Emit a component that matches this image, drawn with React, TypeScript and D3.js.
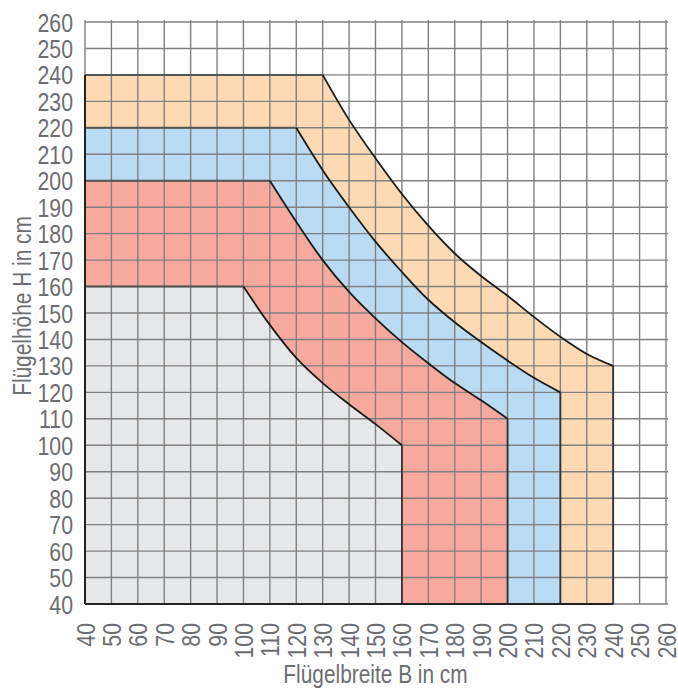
import React from 'react';
import * as d3 from 'd3';

const xTicks = [40, 50, 60, 70, 80, 90, 100, 110, 120, 130, 140, 150, 160, 170, 180, 190, 200, 210, 220, 230, 240, 250, 260];
const yTicks = [40, 50, 60, 70, 80, 90, 100, 110, 120, 130, 140, 150, 160, 170, 180, 190, 200, 210, 220, 230, 240, 250, 260];

// boundary curves [B, H]
const greyCurve: [number, number][] = [[100, 160], [110, 145.5], [120, 133], [130, 123.5], [140, 115.5], [150, 108], [160, 100]];
const redCurve: [number, number][] = [[110, 200], [120, 184.5], [130, 170], [140, 158], [150, 148], [160, 139], [170, 131], [180, 123.5], [190, 117], [200, 110]];
const blueCurve: [number, number][] = [[120, 220], [130, 204], [140, 190], [150, 177], [160, 165.5], [170, 155], [180, 146.5], [190, 139], [200, 132], [210, 125.5], [220, 120]];
const orangeCurve: [number, number][] = [[130, 240], [140, 223], [150, 208.5], [160, 195], [170, 183], [180, 172.5], [190, 164], [200, 156.5], [210, 148.5], [220, 141], [230, 134.5], [240, 130]];

const regions = [
  { name: 'orange', curve: orangeCurve, color: '#fddab4' },
  { name: 'blue', curve: blueCurve, color: '#b9dbf3' },
  { name: 'red', curve: redCurve, color: '#f8a99e' },
  { name: 'grey', curve: greyCurve, color: '#e6e7e9' },
];

const W = 678, H = 689;
const left = 85, right = 666, top = 22, bottom = 604;
const font = "'Liberation Sans', Arial, sans-serif";
const textColor = '#6d6e71';
const sx = 0.82;

export default function App() {
  const x = d3.scaleLinear().domain([40, 260]).range([left, right]);
  const y = d3.scaleLinear().domain([40, 260]).range([bottom, top]);
  const line = d3.line<[number, number]>().x(d => x(d[0])).y(d => y(d[1])).curve(d3.curveCatmullRom.alpha(0.5));

  const areaPath = (c: [number, number][]) => {
    const first = c[0];
    const last = c[c.length - 1];
    const cp = (line(c) || '').replace(/^M/, 'L');
    return `M${x(40)},${y(40)}L${x(40)},${y(first[1])}L${x(first[0])},${y(first[1])}${cp}L${x(last[0])},${y(40)}Z`;
  };

  return (
    <svg width={W} height={H} style={{ position: 'absolute', left: 0, top: 0 }}>
      <rect x={0} y={0} width={W} height={H} fill="#fff" />
      {regions.map(r => (
        <path key={r.name} d={areaPath(r.curve)} fill={r.color} />
      ))}
      {/* grid */}
      {xTicks.map(t => (
        <line key={'gx' + t} x1={x(t)} x2={x(t)} y1={top - 2} y2={bottom} stroke="#808080" strokeWidth={1.4} />
      ))}
      {yTicks.map(t => (
        <line key={'gy' + t} x1={left} x2={right + 2} y1={y(t)} y2={y(t)} stroke="#808080" strokeWidth={1.4} />
      ))}
      {/* outlines */}
      {regions.map(r => {
        const first = r.curve[0];
        const last = r.curve[r.curve.length - 1];
        return (
          <g key={'o' + r.name}>
            <line x1={x(40)} x2={x(first[0])} y1={y(first[1])} y2={y(first[1])} stroke="#555" strokeWidth={2} />
            <path d={line(r.curve) || ''} fill="none" stroke="#1a1a1a" strokeWidth={1.8} />
            <line x1={x(last[0])} x2={x(last[0])} y1={y(last[1])} y2={y(40)} stroke="#333" strokeWidth={1.8} />
          </g>
        );
      })}
      <line x1={left} x2={left} y1={y(240)} y2={bottom} stroke="#222" strokeWidth={2} />
      <line x1={left} x2={x(240)} y1={bottom} y2={bottom} stroke="#222" strokeWidth={2} />
      {/* y tick labels */}
      {yTicks.map(t => (
        <text key={'ly' + t} transform={`translate(73,${y(t) + 9.5}) scale(${sx},1)`} textAnchor="end" fontFamily={font} fontSize={26} fill={textColor}>{t}</text>
      ))}
      {/* x tick labels */}
      {xTicks.map(t => (
        <text key={'lx' + t} transform={`translate(${x(t) + 9.5},623) rotate(-90) scale(${sx},1)`} textAnchor="end" fontFamily={font} fontSize={26} fill={textColor}>{t}</text>
      ))}
      <text transform={`translate(375.5,683) scale(0.835,1)`} textAnchor="middle" fontFamily={font} fontSize={25} fill={textColor}>Flügelbreite B in cm</text>
      <text transform={`translate(31,306) rotate(-90) scale(0.835,1)`} textAnchor="middle" fontFamily={font} fontSize={25} fill={textColor}>Flügelhöhe H in cm</text>
    </svg>
  );
}
